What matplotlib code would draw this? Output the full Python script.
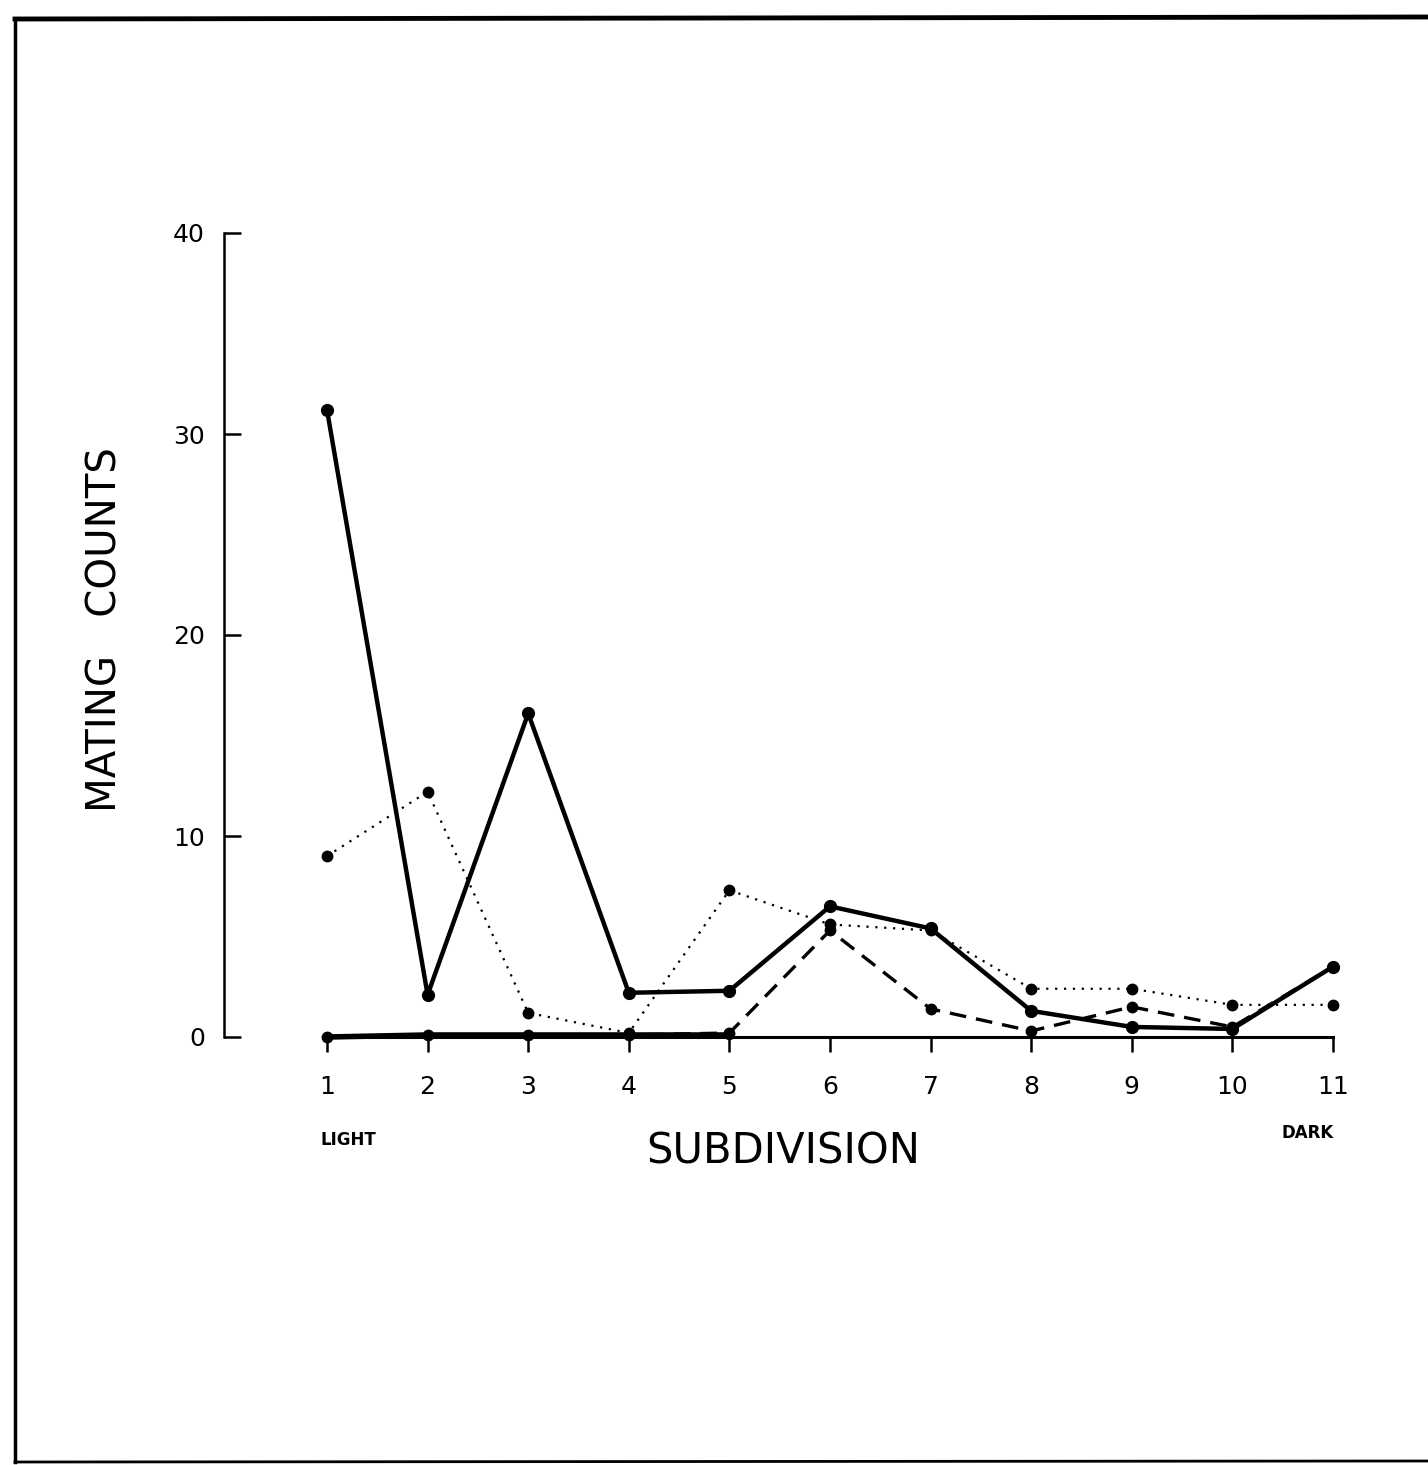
import numpy as np
import matplotlib
matplotlib.use("Agg")
import matplotlib.pyplot as plt
from matplotlib.lines import Line2D

# ---------------------------------------------------------------------------
# Data
# ---------------------------------------------------------------------------
subdivision = np.arange(1, 12)
tick_labels = ["1", "2", "3", "4", "5", "6", "7", "8", "9", "10", "11"]

solid_counts = [31.2, 2.1, 16.1, 2.2, 2.3, 6.5, 5.4, 1.3, 0.5, 0.4, 3.5]
dotted_counts = [9.0, 12.2, 1.2, 0.2, 7.3, 5.6, 5.3, 2.4, 2.4, 1.6, 1.6]
dashed_counts = [0.0, 0.1, 0.1, 0.1, 0.2, 5.3, 1.4, 0.3, 1.5, 0.5, 3.5]
zero_counts = [0.0, 0.1, 0.1, 0.1, 0.1, np.nan, np.nan, np.nan, np.nan, np.nan, np.nan]

y_ticks = [0, 10, 20, 30, 40]

W, H = 1428, 1465
fig = plt.figure(figsize=(W / 100, H / 100), dpi=100)
fig.patch.set_facecolor("white")

# outer frame of the scanned page
fig.add_artist(Line2D([15 / W, 15 / W], [1 - 20 / H, 1 - 1462 / H], color="black", lw=2.5))
fig.add_artist(Line2D([15 / W, 1.0], [1 - 19 / H, 1 - 17 / H], color="black", lw=3.5))
fig.add_artist(Line2D([15 / W, 1.0], [1 - 1462 / H, 1 - 1461 / H], color="black", lw=2.0))

# axes placed so that x=1 -> px 327, x=11 -> px 1333, y=0 -> px 1037, y=40 -> px 233
ax_left, ax_right, ax_top, ax_bot = 200, 1380, 200, 1060
ax = fig.add_axes([ax_left / W, 1 - ax_bot / H, (ax_right - ax_left) / W, (ax_bot - ax_top) / H])
ax.set_facecolor("none")
xpx = (1333 - 327) / 10
ypx = (1037 - 233) / 40
ax.set_xlim(1 - (327 - ax_left) / xpx, 1 + (ax_right - 327) / xpx)
ax.set_ylim(-(ax_bot - 1037) / ypx, (1037 - ax_top) / ypx)

ax.plot(subdivision, dotted_counts, color="black", lw=1.6, ls=(0, (1, 3)),
        marker="o", ms=7.5, zorder=3)
ax.plot(subdivision, dashed_counts, color="black", lw=2.4, ls=(0, (5, 3)),
        marker="o", ms=7.5, zorder=3)
ax.plot(subdivision, zero_counts, color="black", lw=4, marker="o", ms=6, zorder=3)
ax.plot(subdivision, solid_counts, color="black", lw=3.2, marker="o", ms=8.5, zorder=4)

# spines
for s in ["top", "right"]:
    ax.spines[s].set_visible(False)
ax.spines["left"].set_position(("data", -0.02))
ax.spines["left"].set_bounds(0, 40)
ax.spines["left"].set_linewidth(1.8)
ax.spines["bottom"].set_position(("data", 0))
ax.spines["bottom"].set_bounds(1, 11)
ax.spines["bottom"].set_linewidth(2.2)

ax.set_yticks(y_ticks)
ax.set_yticklabels([str(v) for v in y_ticks], fontsize=18)
ax.tick_params(axis="y", direction="in", length=12, width=1.8, pad=14)
ax.set_xticks(subdivision)
ax.set_xticklabels(tick_labels, fontsize=18)
ax.tick_params(axis="x", direction="out", length=11, width=1.8, pad=16)

fig.text(106 / W, 1 - 630 / H, "MATING   COUNTS", rotation=90, ha="center", va="center",
         fontsize=29)
fig.text(783 / W, 1 - 1152 / H, "SUBDIVISION", ha="center", va="center", fontsize=30)
fig.text(348 / W, 1 - 1140 / H, "LIGHT", ha="center", va="center", fontsize=12, fontweight="bold")
fig.text(1308 / W, 1 - 1133 / H, "DARK", ha="center", va="center", fontsize=12, fontweight="bold")

fig.savefig("out.png", dpi=100)
